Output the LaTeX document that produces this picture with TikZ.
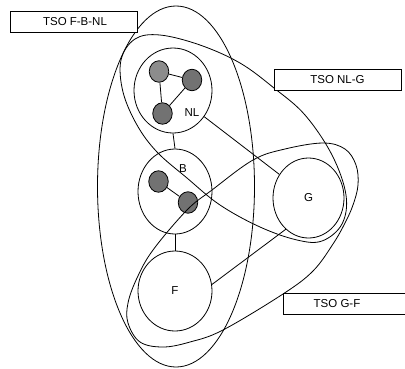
\documentclass[tikz,border=0pt]{standalone}
\usepackage{fontspec}
\setmainfont{Liberation Sans}
\usetikzlibrary{shapes.geometric}
\definecolor{lightdot}{HTML}{8C8C8C}
\definecolor{darkdot}{HTML}{727272}
\begin{document}
\begin{tikzpicture}[x=1pt,y=-1pt,line width=0.8pt,
  every node/.style={font=\fontsize{11.5}{13.8}\selectfont},
  bigcirc/.style={draw,ellipse,inner sep=0pt},
  dot/.style={draw,ellipse,inner sep=0pt,minimum width=19.5pt,minimum height=21.5pt,fill=darkdot},
  tsobox/.style={draw,fill=white,rectangle,minimum height=20.5pt,inner sep=0pt},
  lab/.style={inner sep=0pt}]
\useasboundingbox (0,0) rectangle (405,368);
% main circles
\node[bigcirc,minimum width=78pt,minimum height=85pt] (NL) at (173,90.5) {};
\node[bigcirc,minimum width=74pt,minimum height=85pt] (B) at (175,191.5) {};
\node[bigcirc,minimum width=74pt,minimum height=80pt] (F) at (175,291) {F};
\node[bigcirc,minimum width=71pt,minimum height=80pt] (G) at (308.5,198) {G};
\node[lab] (NLlab) at (192,113) {NL};
\node[lab] (Blab) at (183,169) {B};
% dots
\node[dot,fill=lightdot] (n1) at (159,71.5) {};
\node[dot] (n2) at (192,80) {};
\node[dot] (n3) at (162.5,113.5) {};
\node[dot] (n4) at (158.5,181.5) {};
\node[dot] (n5) at (188,202.5) {};
\draw (n1) -- (n2);
\draw (n1) -- (n3);
\draw (n2) -- (n3);
\draw (n4) -- (n5);
% connectors
\draw (NL.south) -- (B.north);
\draw (B.south) -- (F.north);
\draw (NL.320) -- (G.141);
\draw (F.10) -- (G.234);
% TSO F-B-NL
\draw (176,186.5) ellipse [x radius=78.5pt, y radius=180.5pt];
% TSO NL-G
\draw plot[smooth cycle, tension=0.6] coordinates {
  (121,60) (135,39) (160,35) (200,45) (240,63) (274,88) (305,115)
  (332,155) (346,195) (342,224) (322,241) (297,240) (260,227)
  (220,205) (187,178) (157,152) (137,125) (123,92)};
% TSO G-F
\draw plot[smooth cycle, tension=0.6] coordinates {
  (153,250) (187,210) (212,190) (253,160) (285,149) (323,143)
  (345,149) (356,165) (358,185) (353,205) (345,223) (333,244)
  (313,271) (283,294) (223,330) (190,342) (163,347) (140,342)
  (128,323) (128,303) (137,278)};
% boxes
\node[tsobox,minimum width=127pt] (bFBNL) at (73.5,22) {\hspace*{3pt}TSO F-B-NL};
\node[tsobox,minimum width=127pt] (bNLG) at (337.5,80) {TSO NL-G};
\node[tsobox,minimum width=140pt] (bGF) at (353,304) {};
\node[lab] (tGF) at (337,304) {TSO G-F};
\end{tikzpicture}
\end{document}
